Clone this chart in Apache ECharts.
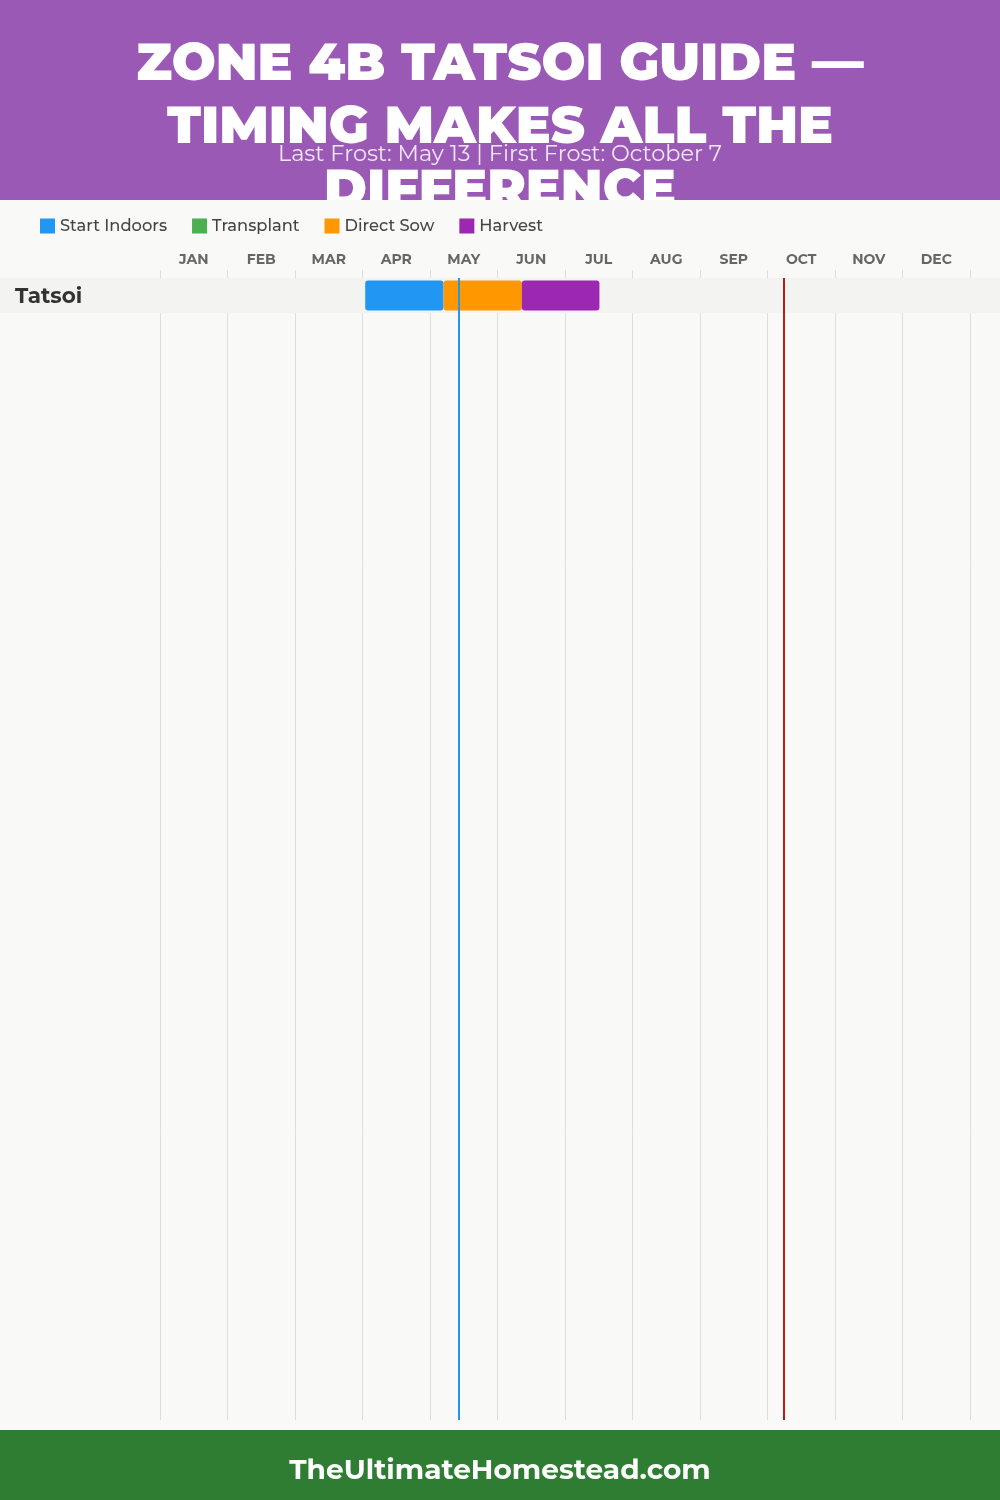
<!DOCTYPE html>
<html><head><meta charset="utf-8">
<script src="https://cdn.jsdelivr.net/npm/echarts@6/dist/echarts.min.js"></script>
<style>html,body{margin:0;padding:0;background:#f9f9f7}#c{width:1000px;height:1500px}</style>
</head><body><div id="c"></div><script>
// ---- data ----
const months = ['JAN','FEB','MAR','APR','MAY','JUN','JUL','AUG','SEP','OCT','NOV','DEC'];
const crops = ['Tatsoi'];
// [cropIndex, startMonth, endMonth] (month index, fractional)
const startIndoors = [[0, 3.04, 4.20]];
const transplant = [];
const directSow = [[0, 4.20, 5.36]];
const harvest = [[0, 5.36, 6.51]];
const lastFrost = 4.43;   // May 13
const firstFrost = 9.24;  // October 7
const titleText = 'ZONE 4B TATSOI GUIDE —\nTIMING MAKES ALL THE\nDIFFERENCE';
const subtitleText = 'Last Frost: May 13 | First Frost: October 7';
const footerText = 'TheUltimateHomestead.com';
const phaseNames = ['Start Indoors','Transplant','Direct Sow','Harvest'];
const phaseColors = ['#2196F3','#4CAF50','#FF9800','#9C27B0'];

const FONT = 'Montserrat, "Open Sans", "DejaVu Sans", sans-serif';
const chart = echarts.init(document.getElementById('c'), null, {renderer:'canvas'});

function phaseItem(params, api){
  const row = api.value(0), s = api.value(1), e = api.value(2);
  const p0 = api.coord([s, row]);
  const p1 = api.coord([e, row + 1]);
  const h = p1[1] - p0[1];
  const inset = h * 0.07;
  return {type:'rect', shape:{x:p0[0], y:p0[1] + inset, width:p1[0] - p0[0], height:h - 2*inset, r:3},
          style:{fill: api.visual('color')}};
}
function bandItem(params, api){
  const row = api.value(0);
  const p0 = api.coord([0, row]);
  const p1 = api.coord([0, row + 1]);
  return {type:'group', children:[
    {type:'rect', shape:{x:0, y:p0[1], width:api.getWidth(), height:p1[1]-p0[1]}, style:{fill:'#f3f3f2'}},
    {type:'text', style:{text:crops[row], x:15, y:(p0[1]+p1[1])/2 + 1, verticalAlign:'middle', align:'left',
      font:'bold 21.5px ' + FONT, fill:'#333'}}
  ]};
}

const phaseData = [startIndoors, transplant, directSow, harvest];
const series = [{
  type:'custom', name:'band', renderItem:bandItem, z:1, silent:true,
  data: crops.map((c,i)=>[i]), encode:{y:0}
}];
phaseData.forEach((d, i) => {
  const s = {type:'custom', name:phaseNames[i], renderItem:phaseItem, z:3,
    itemStyle:{color:phaseColors[i]}, data:d, encode:{x:[1,2], y:0}};
  if (i === 3) {
    s.markLine = {silent:true, symbol:['none','none'], label:{show:false},
      data:[{xAxis:lastFrost, lineStyle:{color:'#2196F3', width:2, type:'solid'}},
            {xAxis:firstFrost, lineStyle:{color:'#B71C1C', width:2, type:'solid'}}]};
  }
  series.push(s);
});

chart.setOption({
  backgroundColor:'#f9f9f7',
  animation:false,
  legend:{data:phaseNames, left:35, top:213, icon:'rect', itemWidth:15, itemHeight:15, itemGap:25,
    textStyle:{fontSize:16.3, fontWeight:500, color:'#444', fontFamily:FONT}},
  grid:{left:160, right:30, top:278, bottom:80},
  xAxis:[
    {type:'value', min:0, max:12, interval:1, position:'top',
     axisLine:{show:false}, axisTick:{show:true, length:8, lineStyle:{color:'#dddddd'}},
     axisLabel:{show:false}, splitLine:{show:true, lineStyle:{color:'#dddddd', width:1}}},
    {type:'category', data:months, position:'top', boundaryGap:true,
     axisLine:{show:false}, axisTick:{show:false}, splitLine:{show:false},
     axisLabel:{margin:11, fontSize:14, fontWeight:'bold', color:'#666', fontFamily:FONT}}
  ],
  yAxis:{type:'value', inverse:true, min:0, max:32.63, show:false},
  graphic:[
    {type:'rect', z:-20, shape:{x:0, y:0, width:1000, height:200}, style:{fill:'#9B59B6'}},
    {type:'text', z:-15, x:500, y:33, style:{text:titleText, font:'900 52px ' + FONT,
      fill:'#ffffff', align:'center', verticalAlign:'top', lineHeight:63}},
    {type:'text', z:-14, x:500, y:154, style:{text:subtitleText, font:'22.4px ' + FONT,
      fill:'rgba(255,255,255,0.85)', align:'center', verticalAlign:'middle'}},
    {type:'rect', z:-10, shape:{x:0, y:200, width:1000, height:1230}, style:{fill:'#f9f9f7'}},
    {type:'rect', z:10, shape:{x:0, y:1430, width:1000, height:70}, style:{fill:'#2E7D32'}},
    {type:'text', z:11, x:500, y:1471, style:{text:footerText, font:'bold 28px ' + FONT,
      fill:'#ffffff', align:'center', verticalAlign:'middle'}}
  ],
  series:series
});
</script></body></html>
